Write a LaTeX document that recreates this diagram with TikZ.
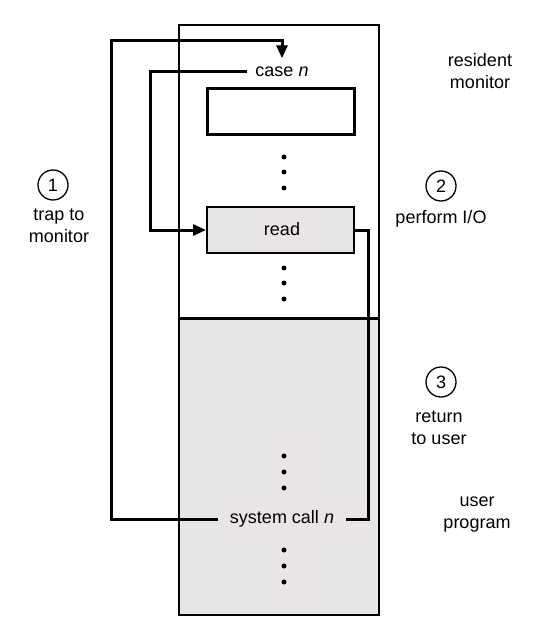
\documentclass[tikz,border=0pt]{standalone}
\usepackage{fontspec}
\setmainfont{Liberation Sans}
\usetikzlibrary{arrows.meta}
\definecolor{panel}{HTML}{E6E6E6}
\definecolor{patch}{HTML}{E9E4E7}
\begin{document}
\begin{tikzpicture}[x=1pt,y=-1pt,
  font=\fontsize{18}{22}\selectfont,
  conn/.style={line width=3pt},
  arr/.style={-{Triangle[length=13pt,width=11pt]}},
  dot/.style={circle,fill=black,inner sep=0pt,minimum size=5pt},
  num/.style={circle,draw,line width=1.3pt,minimum size=30pt,inner sep=0pt},
  lbl/.style={align=center,inner sep=0pt},
  txt/.style={inner sep=0pt,text height=13pt,text depth=4pt}]
\useasboundingbox (0,0) rectangle (547,644);
\fill[white] (0,0) rectangle (547,644);
% lower (user program) area
\fill[panel] (179,318) rectangle (379,615);
\fill[patch] (276,430) rectangle (323,602);
\fill[patch] (225,503) rectangle (362,537);
% memory outline
\draw[line width=2pt] (179,25) rectangle (379,615);
\draw[line width=3pt] (179,318) -- (379,318);
% monitor contents
\node[txt,inner xsep=8pt,inner ysep=5pt] (case) at (282,72) {case \textit{n}};
\node[draw,line width=3pt,minimum width=147pt,minimum height=46pt,inner sep=0pt] (empty) at (280.5,112) {};
\node[dot] (d1) at (284,157) {};
\node[dot] (d2) at (284,172) {};
\node[dot] (d3) at (284,188) {};
\node[draw,line width=2pt,fill=panel,minimum width=147pt,minimum height=46pt,inner sep=0pt] (read) at (280.5,230) {};
\fill[patch] (260,216) rectangle (322,252);
\node[txt] (readtxt) at (282,231) {read};
\node[dot] (d4) at (284,268) {};
\node[dot] (d5) at (284,283) {};
\node[dot] (d6) at (284,299) {};
% user program contents
\node[dot] (d7) at (284,456) {};
\node[dot] (d8) at (284,472) {};
\node[dot] (d9) at (284,488) {};
\node[txt,inner xsep=12pt] (sys) at (282,519) {system call \textit{n}};
\node[dot] (d10) at (284,550) {};
\node[dot] (d11) at (284,566) {};
\node[dot] (d12) at (284,582) {};
% bend points
\coordinate (c1) at (111,41);
\coordinate (c2) at (150,150);
\coordinate (c3) at (368,400);
% connectors
\draw[conn,arr] (sys.west) -| (c1) -| (case.north);
\draw[conn,arr] (case.west) -| (c2) |- (read.west);
\draw[conn] (read.east) -| (c3) |- (sys.east);
% labels
\node[lbl] (res) at (480,71) {resident\\monitor};
\node[num] (n1) at (53,185) {1};
\node[lbl] (trap) at (59,226) {trap to\\monitor};
\node[num] (n2) at (441,186) {2};
\node[lbl] (perf) at (441,219) {perform I/O};
\node[num] (n3) at (441,382) {3};
\node[lbl] (ret) at (439,428) {return\\to user};
\node[lbl] (user) at (477,515) {user\\program};
\end{tikzpicture}
\end{document}
